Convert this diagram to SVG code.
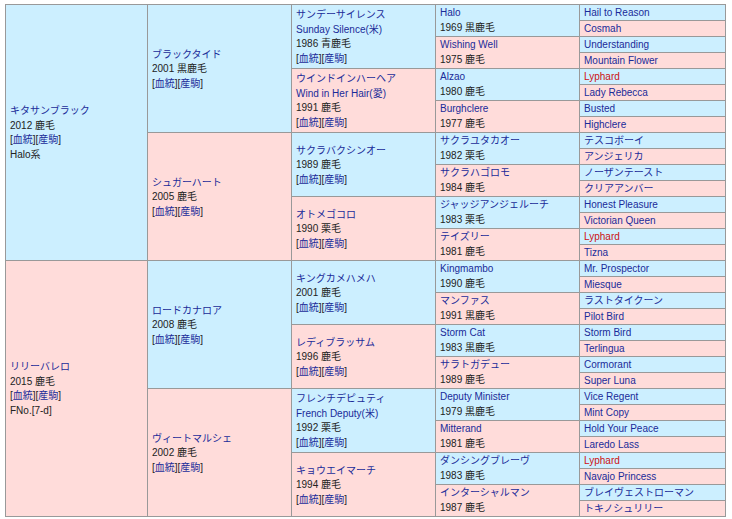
<svg xmlns="http://www.w3.org/2000/svg" width="732" height="519" viewBox="0 0 732 519">
<defs>
<style>
.m{fill:#ccefff;stroke:#999;stroke-width:1}
.f{fill:#ffdcda;stroke:#999;stroke-width:1}
text{font-family:"Liberation Sans","Noto Sans CJK JP",sans-serif;font-size:10px;fill:#222}
.l{fill:#1a2b99}
.r{fill:#cc1111}
</style>
</defs>
<rect x="0" y="0" width="732" height="519" fill="#ffffff"/>
<g id="connectors"/>
<!-- Generation 1 -->
<g id="g1-kitasanblack"><rect class="m" x="5.5" y="4.5" width="142" height="256"/>
<text x="10" y="114.25" class="l">キタサンブラック</text><text x="10" y="128.75">2012 鹿毛</text><text x="10" y="143.25">[<tspan class="l">血統</tspan>][<tspan class="l">産駒</tspan>]</text><text x="10" y="157.75">Halo系</text></g>
<g id="g1-lilyballero"><rect class="f" x="5.5" y="260.5" width="142" height="256"/>
<text x="10" y="370.25" class="l">リリーバレロ</text><text x="10" y="384.75">2015 鹿毛</text><text x="10" y="399.25">[<tspan class="l">血統</tspan>][<tspan class="l">産駒</tspan>]</text><text x="10" y="413.75">FNo.[7-d]</text></g>
<!-- Generation 2 -->
<g id="g2-blacktide"><rect class="m" x="147.5" y="4.5" width="144" height="128"/>
<text x="152" y="57.5" class="l">ブラックタイド</text><text x="152" y="72">2001 黒鹿毛</text><text x="152" y="86.5">[<tspan class="l">血統</tspan>][<tspan class="l">産駒</tspan>]</text></g>
<g id="g2-sugarheart"><rect class="f" x="147.5" y="132.5" width="144" height="128"/>
<text x="152" y="185.5" class="l">シュガーハート</text><text x="152" y="200">2005 鹿毛</text><text x="152" y="214.5">[<tspan class="l">血統</tspan>][<tspan class="l">産駒</tspan>]</text></g>
<g id="g2-lordkanaloa"><rect class="m" x="147.5" y="260.5" width="144" height="128"/>
<text x="152" y="313.5" class="l">ロードカナロア</text><text x="152" y="328">2008 鹿毛</text><text x="152" y="342.5">[<tspan class="l">血統</tspan>][<tspan class="l">産駒</tspan>]</text></g>
<g id="g2-vitemarche"><rect class="f" x="147.5" y="388.5" width="144" height="128"/>
<text x="152" y="441.5" class="l">ヴィートマルシェ</text><text x="152" y="456">2002 鹿毛</text><text x="152" y="470.5">[<tspan class="l">血統</tspan>][<tspan class="l">産駒</tspan>]</text></g>
<!-- Generation 3 -->
<g id="g3-sundaysilence"><rect class="m" x="291.5" y="4.5" width="144" height="64"/>
<text x="296" y="18.25" class="l">サンデーサイレンス</text><text x="296" y="32.75" class="l">Sunday Silence(米)</text><text x="296" y="47.25">1986 青鹿毛</text><text x="296" y="61.75">[<tspan class="l">血統</tspan>][<tspan class="l">産駒</tspan>]</text></g>
<g id="g3-windinherhair"><rect class="f" x="291.5" y="68.5" width="144" height="64"/>
<text x="296" y="82.25" class="l">ウインドインハーヘア</text><text x="296" y="96.75" class="l">Wind in Her Hair(愛)</text><text x="296" y="111.25">1991 鹿毛</text><text x="296" y="125.75">[<tspan class="l">血統</tspan>][<tspan class="l">産駒</tspan>]</text></g>
<g id="g3-sakurabakushino"><rect class="m" x="291.5" y="132.5" width="144" height="64"/>
<text x="296" y="153.5" class="l">サクラバクシンオー</text><text x="296" y="168">1989 鹿毛</text><text x="296" y="182.5">[<tspan class="l">血統</tspan>][<tspan class="l">産駒</tspan>]</text></g>
<g id="g3-otomegokoro"><rect class="f" x="291.5" y="196.5" width="144" height="64"/>
<text x="296" y="217.5" class="l">オトメゴコロ</text><text x="296" y="232">1990 栗毛</text><text x="296" y="246.5">[<tspan class="l">血統</tspan>][<tspan class="l">産駒</tspan>]</text></g>
<g id="g3-kingkamehameha"><rect class="m" x="291.5" y="260.5" width="144" height="64"/>
<text x="296" y="281.5" class="l">キングカメハメハ</text><text x="296" y="296">2001 鹿毛</text><text x="296" y="310.5">[<tspan class="l">血統</tspan>][<tspan class="l">産駒</tspan>]</text></g>
<g id="g3-ladyblossom"><rect class="f" x="291.5" y="324.5" width="144" height="64"/>
<text x="296" y="345.5" class="l">レディブラッサム</text><text x="296" y="360">1996 鹿毛</text><text x="296" y="374.5">[<tspan class="l">血統</tspan>][<tspan class="l">産駒</tspan>]</text></g>
<g id="g3-frenchdeputy"><rect class="m" x="291.5" y="388.5" width="144" height="64"/>
<text x="296" y="402.25" class="l">フレンチデピュティ</text><text x="296" y="416.75" class="l">French Deputy(米)</text><text x="296" y="431.25">1992 栗毛</text><text x="296" y="445.75">[<tspan class="l">血統</tspan>][<tspan class="l">産駒</tspan>]</text></g>
<g id="g3-kyoeimarch"><rect class="f" x="291.5" y="452.5" width="144" height="64"/>
<text x="296" y="473.5" class="l">キョウエイマーチ</text><text x="296" y="488">1994 鹿毛</text><text x="296" y="502.5">[<tspan class="l">血統</tspan>][<tspan class="l">産駒</tspan>]</text></g>
<!-- Generation 4 -->
<g id="g4-halo"><rect class="m" x="435.5" y="4.5" width="144" height="32"/><text x="440" y="16" class="l">Halo</text><text x="440" y="31">1969 黒鹿毛</text></g>
<g id="g4-wishingwell"><rect class="f" x="435.5" y="36.5" width="144" height="32"/><text x="440" y="48" class="l">Wishing Well</text><text x="440" y="63">1975 鹿毛</text></g>
<g id="g4-alzao"><rect class="m" x="435.5" y="68.5" width="144" height="32"/><text x="440" y="80" class="l">Alzao</text><text x="440" y="95">1980 鹿毛</text></g>
<g id="g4-burghclere"><rect class="f" x="435.5" y="100.5" width="144" height="32"/><text x="440" y="112" class="l">Burghclere</text><text x="440" y="127">1977 鹿毛</text></g>
<g id="g4-sakurayutakao"><rect class="m" x="435.5" y="132.5" width="144" height="32"/><text x="440" y="144" class="l">サクラユタカオー</text><text x="440" y="159">1982 栗毛</text></g>
<g id="g4-sakurahagoromo"><rect class="f" x="435.5" y="164.5" width="144" height="32"/><text x="440" y="176" class="l">サクラハゴロモ</text><text x="440" y="191">1984 鹿毛</text></g>
<g id="g4-judgeangelucci"><rect class="m" x="435.5" y="196.5" width="144" height="32"/><text x="440" y="208" class="l">ジャッジアンジェルーチ</text><text x="440" y="223">1983 栗毛</text></g>
<g id="g4-teizley"><rect class="f" x="435.5" y="228.5" width="144" height="32"/><text x="440" y="240" class="l">テイズリー</text><text x="440" y="255">1981 鹿毛</text></g>
<g id="g4-kingmambo"><rect class="m" x="435.5" y="260.5" width="144" height="32"/><text x="440" y="272" class="l">Kingmambo</text><text x="440" y="287">1990 鹿毛</text></g>
<g id="g4-manfath"><rect class="f" x="435.5" y="292.5" width="144" height="32"/><text x="440" y="304" class="l">マンファス</text><text x="440" y="319">1991 黒鹿毛</text></g>
<g id="g4-stormcat"><rect class="m" x="435.5" y="324.5" width="144" height="32"/><text x="440" y="336" class="l">Storm Cat</text><text x="440" y="351">1983 黒鹿毛</text></g>
<g id="g4-saratogadew"><rect class="f" x="435.5" y="356.5" width="144" height="32"/><text x="440" y="368" class="l">サラトガデュー</text><text x="440" y="383">1989 鹿毛</text></g>
<g id="g4-deputyminister"><rect class="m" x="435.5" y="388.5" width="144" height="32"/><text x="440" y="400" class="l">Deputy Minister</text><text x="440" y="415">1979 黒鹿毛</text></g>
<g id="g4-mitterand"><rect class="f" x="435.5" y="420.5" width="144" height="32"/><text x="440" y="432" class="l">Mitterand</text><text x="440" y="447">1981 鹿毛</text></g>
<g id="g4-dancingbrave"><rect class="m" x="435.5" y="452.5" width="144" height="32"/><text x="440" y="464" class="l">ダンシングブレーヴ</text><text x="440" y="479">1983 鹿毛</text></g>
<g id="g4-intercharman"><rect class="f" x="435.5" y="484.5" width="144" height="32"/><text x="440" y="496" class="l">インターシャルマン</text><text x="440" y="511">1987 鹿毛</text></g>
<!-- Generation 5 -->
<g id="g5-01"><rect class="m" x="579.5" y="4.5" width="146" height="16"/><text x="584" y="16" class="l">Hail to Reason</text></g>
<g id="g5-02"><rect class="f" x="579.5" y="20.5" width="146" height="16"/><text x="584" y="32" class="l">Cosmah</text></g>
<g id="g5-03"><rect class="m" x="579.5" y="36.5" width="146" height="16"/><text x="584" y="48" class="l">Understanding</text></g>
<g id="g5-04"><rect class="f" x="579.5" y="52.5" width="146" height="16"/><text x="584" y="64" class="l">Mountain Flower</text></g>
<g id="g5-05"><rect class="m" x="579.5" y="68.5" width="146" height="16"/><text x="584" y="80" class="r">Lyphard</text></g>
<g id="g5-06"><rect class="f" x="579.5" y="84.5" width="146" height="16"/><text x="584" y="96" class="l">Lady Rebecca</text></g>
<g id="g5-07"><rect class="m" x="579.5" y="100.5" width="146" height="16"/><text x="584" y="112" class="l">Busted</text></g>
<g id="g5-08"><rect class="f" x="579.5" y="116.5" width="146" height="16"/><text x="584" y="128" class="l">Highclere</text></g>
<g id="g5-09"><rect class="m" x="579.5" y="132.5" width="146" height="16"/><text x="584" y="144" class="l">テスコボーイ</text></g>
<g id="g5-10"><rect class="f" x="579.5" y="148.5" width="146" height="16"/><text x="584" y="160" class="l">アンジェリカ</text></g>
<g id="g5-11"><rect class="m" x="579.5" y="164.5" width="146" height="16"/><text x="584" y="176" class="l">ノーザンテースト</text></g>
<g id="g5-12"><rect class="f" x="579.5" y="180.5" width="146" height="16"/><text x="584" y="192" class="l">クリアアンバー</text></g>
<g id="g5-13"><rect class="m" x="579.5" y="196.5" width="146" height="16"/><text x="584" y="208" class="l">Honest Pleasure</text></g>
<g id="g5-14"><rect class="f" x="579.5" y="212.5" width="146" height="16"/><text x="584" y="224" class="l">Victorian Queen</text></g>
<g id="g5-15"><rect class="m" x="579.5" y="228.5" width="146" height="16"/><text x="584" y="240" class="r">Lyphard</text></g>
<g id="g5-16"><rect class="f" x="579.5" y="244.5" width="146" height="16"/><text x="584" y="256" class="l">Tizna</text></g>
<g id="g5-17"><rect class="m" x="579.5" y="260.5" width="146" height="16"/><text x="584" y="272" class="l">Mr. Prospector</text></g>
<g id="g5-18"><rect class="f" x="579.5" y="276.5" width="146" height="16"/><text x="584" y="288" class="l">Miesque</text></g>
<g id="g5-19"><rect class="m" x="579.5" y="292.5" width="146" height="16"/><text x="584" y="304" class="l">ラストタイクーン</text></g>
<g id="g5-20"><rect class="f" x="579.5" y="308.5" width="146" height="16"/><text x="584" y="320" class="l">Pilot Bird</text></g>
<g id="g5-21"><rect class="m" x="579.5" y="324.5" width="146" height="16"/><text x="584" y="336" class="l">Storm Bird</text></g>
<g id="g5-22"><rect class="f" x="579.5" y="340.5" width="146" height="16"/><text x="584" y="352" class="l">Terlingua</text></g>
<g id="g5-23"><rect class="m" x="579.5" y="356.5" width="146" height="16"/><text x="584" y="368" class="l">Cormorant</text></g>
<g id="g5-24"><rect class="f" x="579.5" y="372.5" width="146" height="16"/><text x="584" y="384" class="l">Super Luna</text></g>
<g id="g5-25"><rect class="m" x="579.5" y="388.5" width="146" height="16"/><text x="584" y="400" class="l">Vice Regent</text></g>
<g id="g5-26"><rect class="f" x="579.5" y="404.5" width="146" height="16"/><text x="584" y="416" class="l">Mint Copy</text></g>
<g id="g5-27"><rect class="m" x="579.5" y="420.5" width="146" height="16"/><text x="584" y="432" class="l">Hold Your Peace</text></g>
<g id="g5-28"><rect class="f" x="579.5" y="436.5" width="146" height="16"/><text x="584" y="448" class="l">Laredo Lass</text></g>
<g id="g5-29"><rect class="m" x="579.5" y="452.5" width="146" height="16"/><text x="584" y="464" class="r">Lyphard</text></g>
<g id="g5-30"><rect class="f" x="579.5" y="468.5" width="146" height="16"/><text x="584" y="480" class="l">Navajo Princess</text></g>
<g id="g5-31"><rect class="m" x="579.5" y="484.5" width="146" height="16"/><text x="584" y="496" class="l">ブレイヴェストローマン</text></g>
<g id="g5-32"><rect class="f" x="579.5" y="500.5" width="146" height="16"/><text x="584" y="512" class="l">トキノシュリリー</text></g>
</svg>
